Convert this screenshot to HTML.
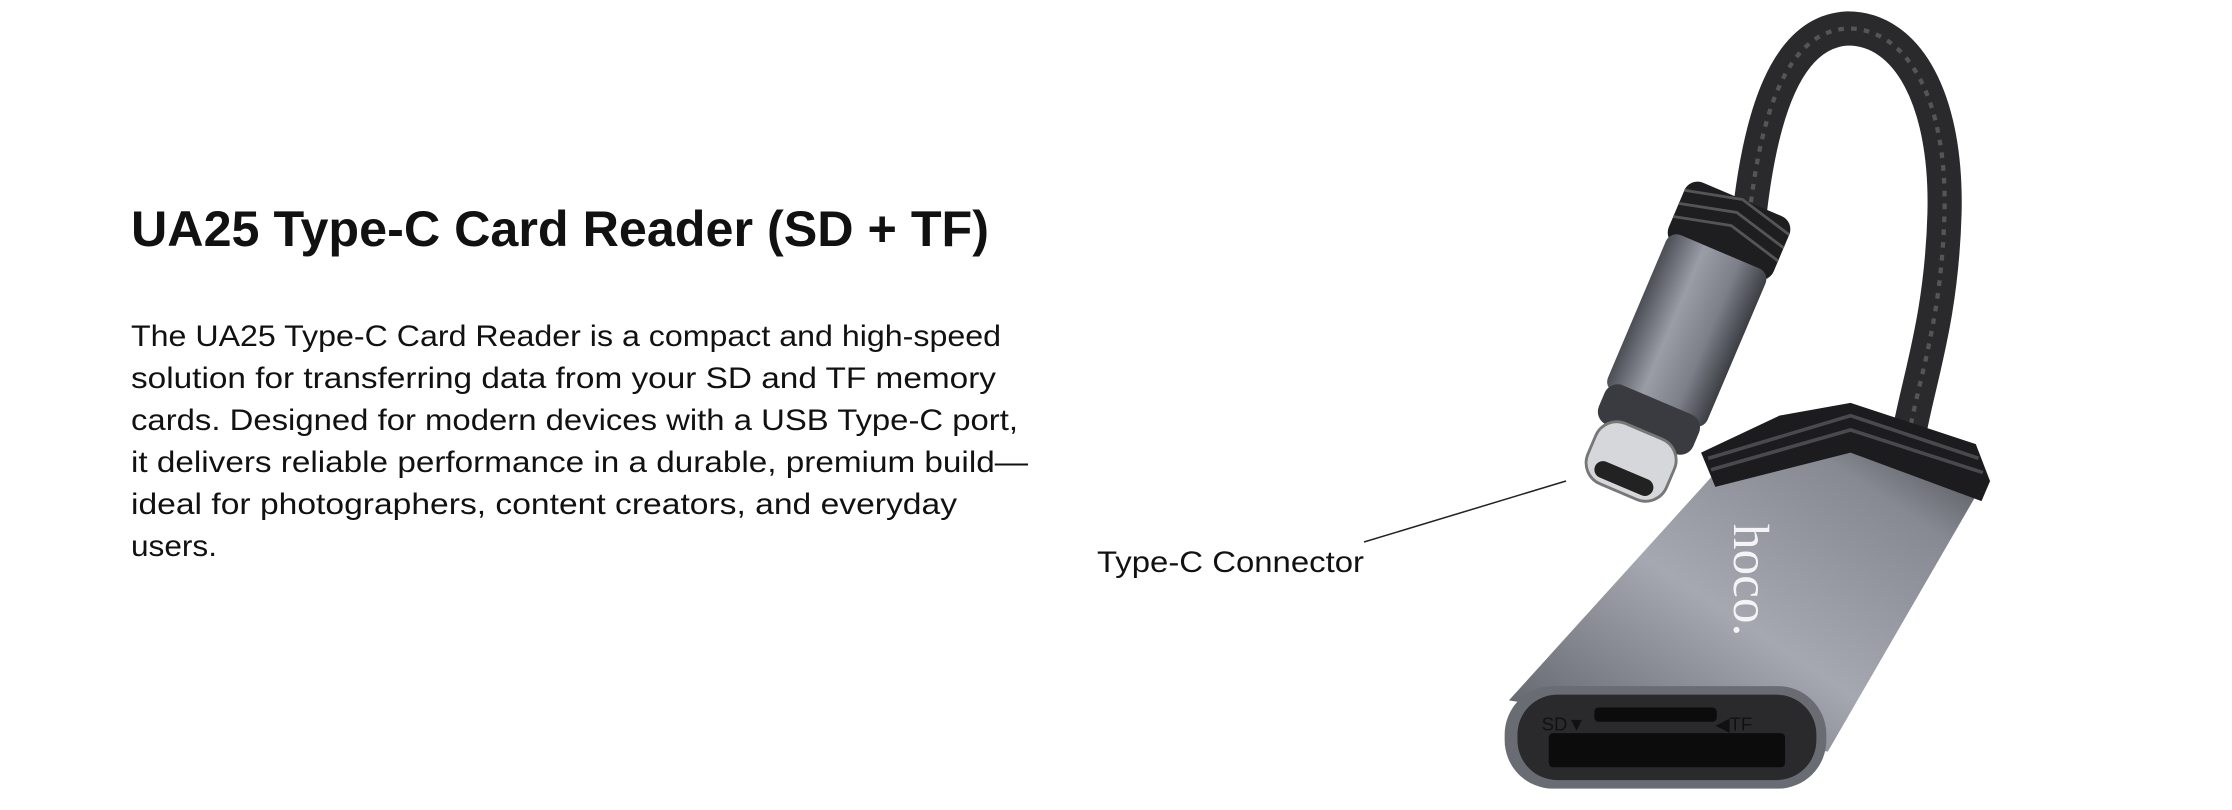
<!DOCTYPE html>
<html><head><meta charset="utf-8"><style>
html,body{margin:0;padding:0;background:#fff;}
svg{display:block;}
</style></head><body>
<svg width="2232" height="810" viewBox="0 0 2232 810" xmlns="http://www.w3.org/2000/svg">
<defs>
<linearGradient id="gm" x1="0" x2="1" y1="0" y2="0">
<stop offset="0" stop-color="#4c4e56"/><stop offset="0.35" stop-color="#9a9ca6"/><stop offset="0.7" stop-color="#7c7e88"/><stop offset="1" stop-color="#3c3e44"/>
</linearGradient>
<linearGradient id="gb" x1="0" x2="1" y1="1" y2="0">
<stop offset="0" stop-color="#5a5c64"/><stop offset="0.45" stop-color="#a6a8b1"/><stop offset="0.8" stop-color="#878992"/><stop offset="1" stop-color="#45474d"/>
</linearGradient>
</defs>
<g font-family="'Liberation Sans', sans-serif" fill="#111">
<text x="131" y="246" font-size="50" font-weight="bold" textLength="858" lengthAdjust="spacingAndGlyphs">UA25 Type-C Card Reader (SD + TF)</text>
<g font-size="30">
<text x="131" y="346" textLength="870" lengthAdjust="spacingAndGlyphs">The UA25 Type-C Card Reader is a compact and high-speed</text>
<text x="131" y="388" textLength="865" lengthAdjust="spacingAndGlyphs">solution for transferring data from your SD and TF memory</text>
<text x="131" y="430" textLength="887" lengthAdjust="spacingAndGlyphs">cards. Designed for modern devices with a USB Type-C port,</text>
<text x="131" y="472" textLength="897" lengthAdjust="spacingAndGlyphs">it delivers reliable performance in a durable, premium build—</text>
<text x="131" y="514" textLength="826" lengthAdjust="spacingAndGlyphs">ideal for photographers, content creators, and everyday</text>
<text x="131" y="556" textLength="86" lengthAdjust="spacingAndGlyphs">users.</text>
</g>
<text x="1097" y="572" font-size="30" textLength="267" lengthAdjust="spacingAndGlyphs">Type-C Connector</text>
</g>
<line x1="1364" y1="542" x2="1566" y2="481" stroke="#222" stroke-width="1.5"/>
<g transform="scale(1.4235)">
<!-- cable -->
<path d="M1228,160 C1236,80 1255,22 1298,20 C1340,20 1368,70 1366,150 C1364,220 1350,260 1342,300" fill="none" stroke="#2a2a2c" stroke-width="24"/>
<path d="M1228,160 C1236,80 1255,22 1298,20 C1340,20 1368,70 1366,150 C1364,220 1350,260 1342,300" fill="none" stroke="#555" stroke-width="3" stroke-dasharray="4 5"/>
<!-- plug -->
<g transform="translate(1140,338) rotate(23)">
<rect x="-40" y="-215" width="80" height="48" rx="10" fill="#1e1e20"/>
<path d="M-40,-205 L0,-215 L40,-205 M-40,-195 L0,-205 L40,-195 M-40,-185 L0,-195 L40,-185" stroke="#555" stroke-width="2" fill="none"/>
<rect x="-38" y="-175" width="76" height="120" rx="8" fill="url(#gm)"/>
<rect x="-36" y="-62" width="72" height="30" rx="10" fill="#3a3b40"/>
<rect x="-30" y="-38" width="60" height="46" rx="16" fill="#d6d7db" stroke="#777" stroke-width="2"/>
<rect x="-22" y="-8" width="44" height="12" rx="6" fill="#222"/>
</g>
<!-- reader -->
<path d="M1205,332 L1300,308 L1394,338 L1284,528 L1060,492 Z" fill="url(#gb)"/>
<path d="M1195,318 L1250,292 L1300,283 L1388,312 L1398,338 L1392,352 L1300,318 L1205,342 Z" fill="#1c1c1e"/>
<path d="M1200,322 L1300,292 L1390,322 M1202,330 L1300,302 L1393,332" stroke="#4a4a4e" stroke-width="2.5" fill="none"/>
<text x="0" y="0" transform="translate(1218,368) rotate(90)" font-family="'Liberation Serif', serif" font-size="36" fill="#f4f4f6">hoco.</text>
<rect x="1057" y="482" width="226" height="72" rx="34" fill="#6a6c74"/>
<rect x="1066" y="488" width="210" height="60" rx="28" fill="#2a2a2d"/>
<rect x="1120" y="497" width="86" height="10" rx="3" fill="#0c0c0c"/>
<rect x="1088" y="515" width="166" height="24" rx="3" fill="#0c0c0c"/>
<text x="1083" y="513" font-family="'Liberation Sans', sans-serif" font-size="13" fill="#111">SD▼</text>
<text x="1205" y="513" font-family="'Liberation Sans', sans-serif" font-size="13" fill="#111">◀TF</text>
</g>
</svg>
</body></html>
